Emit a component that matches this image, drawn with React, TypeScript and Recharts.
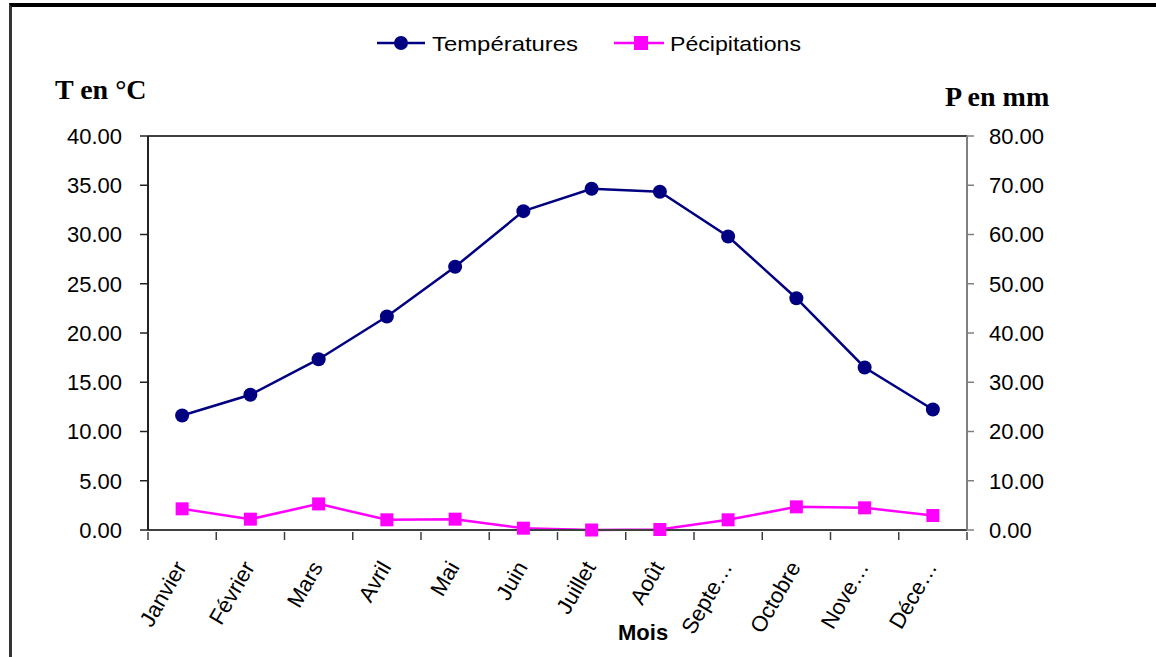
import { CartesianGrid, ComposedChart, Line, XAxis, YAxis } from "recharts"

// Monthly climate series
const months = ["Janvier", "Février", "Mars", "Avril", "Mai", "Juin", "Juillet", "Août", "Septe…", "Octobre", "Nove…", "Déce…"]
const temperatures = [11.62, 13.73, 17.34, 21.68, 26.72, 32.37, 34.64, 34.34, 29.8, 23.53, 16.5, 12.23]
const precipitations = [4.3, 2.2, 5.3, 2.07, 2.2, 0.37, 0, 0.1, 2.07, 4.7, 4.5, 2.94]

const tempTicks = [0, 5, 10, 15, 20, 25, 30, 35, 40]
const precipTicks = [0, 10, 20, 30, 40, 50, 60, 70, 80]

const data = months.map((m, i) => ({ mois: m, temp: temperatures[i], precip: precipitations[i] }))

const NAVY = "#000080"
const MAGENTA = "#ff00ff"
const W = 1156
const H = 657
const PLOT_LEFT = 148
const PLOT_RIGHT = 967
const BAND = (PLOT_RIGHT - PLOT_LEFT) / months.length

const fmt = (v: number) => v.toFixed(2)

function MonthTick(props: any) {
    const { x, y, payload, index } = props
    const left = x - BAND / 2
    const tx = x + 5
    const ty = y + 35
    return (
        <g>
            <line x1={left} y1={y} x2={left} y2={y + 8} stroke="#404040" strokeWidth={1.5} />
            {index === months.length - 1 && (
                <line x1={x + BAND / 2} y1={y} x2={x + BAND / 2} y2={y + 8} stroke="#404040" strokeWidth={1.5} />
            )}
            <text
                x={tx}
                y={ty}
                textAnchor="end"
                fontSize={22}
                fontFamily="Liberation Sans, Arial, sans-serif"
                fill="#000"
                transform={`rotate(-60, ${tx}, ${ty})`}
            >
                {payload.value}
            </text>
        </g>
    )
}

function SquareDot(props: any) {
    const { cx, cy, index } = props
    if (cx == null || cy == null) return null
    return <rect key={`sq-${index}`} x={cx - 6.5} y={cy - 6.5} width={13} height={13} fill={MAGENTA} />
}

function LegendRow() {
    return (
        <svg width={W} height={60} style={{ position: "absolute", left: 0, top: 13 }}>
            <line x1={377} y1={30} x2={425} y2={30} stroke={NAVY} strokeWidth={2.5} />
            <circle cx={401} cy={30} r={7} fill={NAVY} />
            <text x={432} y={38} fontSize={21} fontFamily="Liberation Sans, Arial, sans-serif" textLength={146} lengthAdjust="spacingAndGlyphs">
                Températures
            </text>
            <line x1={614} y1={30} x2={664} y2={30} stroke={MAGENTA} strokeWidth={2.5} />
            <rect x={634} y={23} width={14} height={14} fill={MAGENTA} />
            <text x={670} y={38} fontSize={21} fontFamily="Liberation Sans, Arial, sans-serif" textLength={131} lengthAdjust="spacingAndGlyphs">
                Pécipitations
            </text>
        </svg>
    )
}

const titleStyle: React.CSSProperties = {
    position: "absolute",
    fontFamily: "Liberation Serif, 'Times New Roman', serif",
    fontWeight: "bold",
    fontSize: 28,
    lineHeight: "28px",
    whiteSpace: "nowrap",
}

export default function App() {
    return (
        <div style={{ position: "absolute", left: 0, top: 0, width: W, height: H, background: "#fff", overflow: "hidden" }}>
            <div style={{ position: "absolute", left: 9, top: 3, width: W, height: H, borderTop: "4px solid #000", borderLeft: "3px solid #333" }} />
            <ComposedChart width={W} height={H} data={data} margin={{ top: 136, right: 0, bottom: 0, left: 0 }}>
                <CartesianGrid vertical={false} stroke="#000" strokeWidth={1.5} />
                <XAxis
                    dataKey="mois"
                    scale="band"
                    height={127}
                    interval={0}
                    tickSize={0}
                    tickLine={false}
                    axisLine={{ stroke: "#404040", strokeWidth: 2 }}
                    tick={<MonthTick />}
                />
                <YAxis
                    yAxisId="t"
                    width={148}
                    domain={[0, 40]}
                    ticks={tempTicks}
                    tickFormatter={fmt}
                    tickSize={8}
                    tickMargin={18}
                    axisLine={{ stroke: "#222", strokeWidth: 2 }}
                    tickLine={{ stroke: "#222", strokeWidth: 1.5 }}
                    tick={{ fill: "#000", fontSize: 22, fontFamily: "Liberation Sans, Arial, sans-serif" }}
                />
                <YAxis
                    yAxisId="p"
                    orientation="right"
                    width={189}
                    domain={[0, 80]}
                    ticks={precipTicks}
                    tickFormatter={fmt}
                    tickSize={7}
                    tickMargin={15}
                    axisLine={{ stroke: "#808080", strokeWidth: 2 }}
                    tickLine={{ stroke: "#808080", strokeWidth: 1.5 }}
                    tick={{ fill: "#000", fontSize: 22, fontFamily: "Liberation Sans, Arial, sans-serif", textAnchor: "start" }}
                />
                <Line
                    yAxisId="t"
                    dataKey="temp"
                    name="Températures"
                    stroke={NAVY}
                    strokeWidth={2.5}
                    dot={{ r: 7, fill: NAVY, stroke: NAVY, strokeWidth: 0 }}
                    activeDot={false}
                    isAnimationActive={false}
                />
                <Line
                    yAxisId="p"
                    dataKey="precip"
                    name="Pécipitations"
                    stroke={MAGENTA}
                    strokeWidth={2.5}
                    dot={<SquareDot />}
                    activeDot={false}
                    isAnimationActive={false}
                />
            </ComposedChart>
            <LegendRow />
            <div style={{ ...titleStyle, left: 55, top: 76 }}>T en °C</div>
            <div style={{ ...titleStyle, left: 945, top: 83 }}>P en mm</div>
            <div
                style={{
                    position: "absolute",
                    left: 618,
                    top: 620,
                    fontFamily: "Liberation Sans, Arial, sans-serif",
                    fontWeight: "bold",
                    fontSize: 22,
                    lineHeight: "26px",
                }}
            >
                Mois
            </div>
        </div>
    )
}
